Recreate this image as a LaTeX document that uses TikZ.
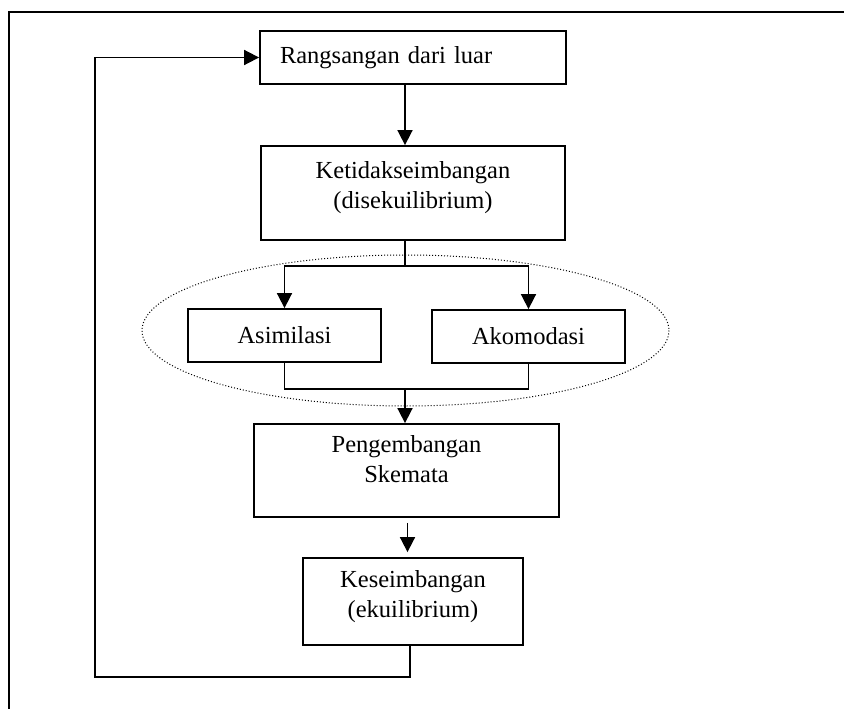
\documentclass[tikz,border=0pt]{standalone}
\usepackage{fontspec}
\setmainfont{Liberation Serif}
\usetikzlibrary{arrows.meta}

\begin{document}
\begin{tikzpicture}[x=1pt,y=-1pt,
    box/.style={draw=black,line width=1.8pt,rectangle,inner sep=0pt,
      align=center,font=\fontsize{24.5}{30}\selectfont},
    link/.style={line width=1.7pt},
    arr/.style={link,-{Triangle[length=15pt,width=15pt]}}]
  \useasboundingbox (0,0) rectangle (844,709);
  % frame
  \draw[line width=1.9pt] (850,12) -- (9,12) -- (9,715);

  % boxes
  \node[box,text width=266pt,align=left,inner xsep=20pt,minimum height=53pt]
    (rangsangan) at (413,57.5) {Rangsangan dari luar};
  \node[box,minimum width=304pt,minimum height=94pt,text depth=17pt]
    (ketidak) at (413,193) {Ketidakseimbangan\\(disekuilibrium)};
  \node[box,minimum width=193pt,minimum height=53pt]
    (asimilasi) at (284.5,335.5) {Asimilasi};
  \node[box,minimum width=193pt,minimum height=53pt]
    (akomodasi) at (528.5,336.5) {Akomodasi};
  \node[box,minimum width=305pt,minimum height=93pt,text depth=24pt]
    (pengembangan) at (406.5,470.5) {Pengembangan\\Skemata};
  \node[box,minimum width=220pt,minimum height=87pt,text depth=15pt]
    (keseimbangan) at (413,601.5) {Keseimbangan\\(ekuilibrium)};

  % grouping ellipse
  \draw[dotted,line width=1pt] (405.5,330.5) ellipse [x radius=263.5,y radius=75.5];

  % connectors
  \coordinate (split) at (405,266);
  \coordinate (join) at (405,389);
  \coordinate (back) at (95,677);

  \draw[arr] (rangsangan.south -| split) -- (ketidak.north -| split);
  \draw[link] (ketidak.south -| split) -- (split);
  \draw[arr] (split) -| (asimilasi.north);
  \draw[arr] (split) -| (akomodasi.north);
  \draw[link] (asimilasi.south) |- (join) -| (akomodasi.south);
  \draw[arr] (join) -- (pengembangan.north -| join);
  \draw[arr,shorten <=5pt,shorten >=5pt] ([xshift=1pt]pengembangan.south)
    -- ([xshift=1pt]pengembangan.south |- keseimbangan.north);
  \draw[arr] ([xshift=-3pt]keseimbangan.south) |- (back) |- (rangsangan.west);
\end{tikzpicture}
\end{document}
